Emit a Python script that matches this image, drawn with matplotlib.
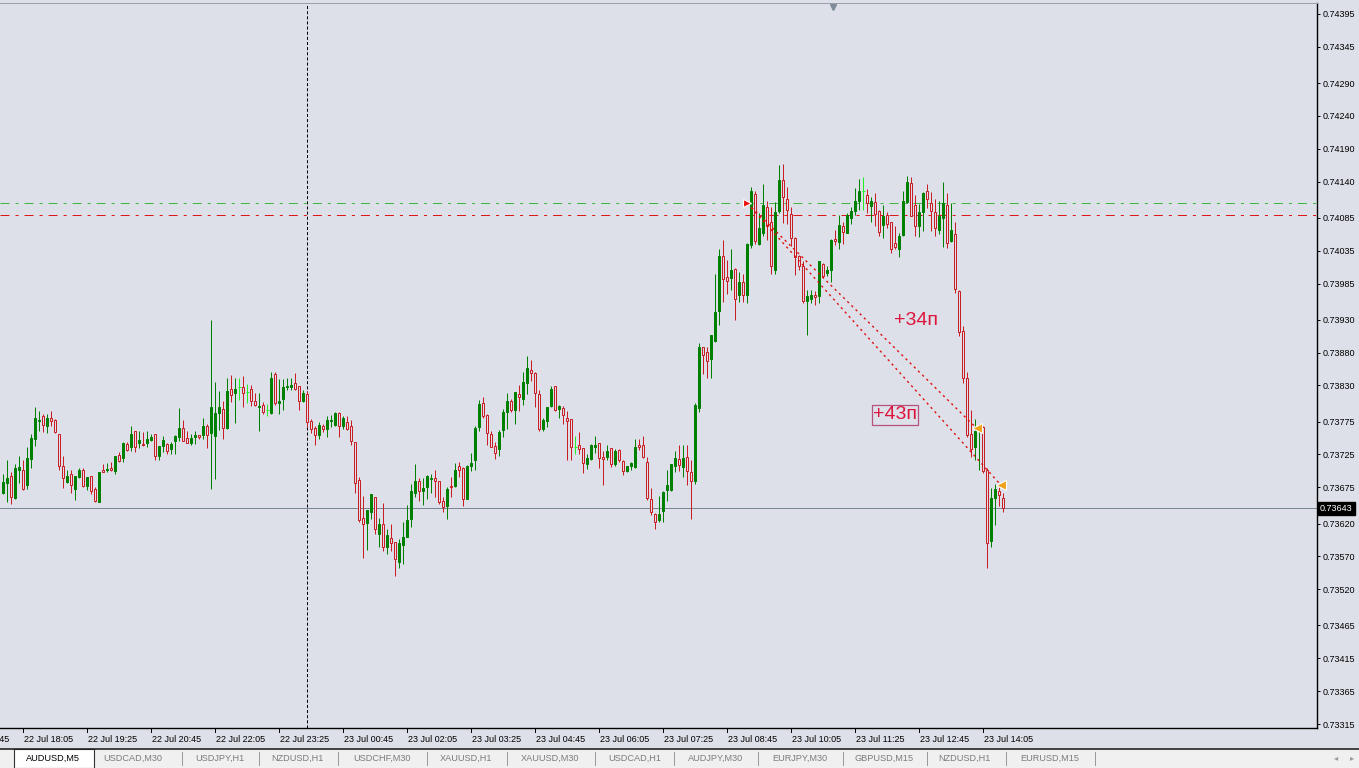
import matplotlib
matplotlib.use('Agg')
import matplotlib.pyplot as plt
import matplotlib.transforms as mtransforms
from matplotlib.patches import Rectangle
import numpy as np

plt.rcParams['font.family'] = ['Liberation Sans', 'DejaVu Sans']
plt.rcParams['lines.scale_dashes'] = False

# AUDUSD,M5 bars from 22 Jul 17:40 to 23 Jul 14:30, quotes in points (x 1e-5)
opens = [73666, 73682, 73692, 73659, 73701, 73701, 73679, 73718, 73749, 73776,
         73784, 73769, 73781, 73777, 73756, 73707, 73683, 73695, 73673, 73691,
         73702, 73677, 73692, 73673, 73653, 73701, 73701, 73705, 73700, 73724,
         73720, 73741, 73736, 73760, 73742, 73741, 73743, 73747, 73756, 73722,
         73738, 73741, 73733, 73746, 73752, 73765, 73750, 73743, 73752, 73754,
         73755, 73768, 73758, 73753, 73788, 73794, 73765, 73825, 73819, 73827,
         73828, 73820, 73824, 73806, 73797, 73800, 73793, 73788, 73847, 73804,
         73809, 73827, 73827, 73833, 73829, 73806, 73817, 73776, 73766, 73754,
         73768, 73764, 73776, 73770, 73788, 73768, 73774, 73768, 73744, 73686,
         73628, 73621, 73637, 73660, 73604, 73620, 73584, 73598, 73592, 73561,
         73588, 73600, 73627, 73667, 73685, 73670, 73676, 73688, 73689, 73684,
         73654, 73646, 73677, 73677, 73707, 73704, 73658, 73707, 73716, 73767,
         73804, 73785, 73756, 73738, 73733, 73762, 73790, 73807, 73793, 73817,
         73809, 73834, 73853, 73849, 73817, 73764, 73776, 73799, 73829, 73794,
         73796, 73780, 73779, 73736, 73739, 73735, 73710, 73718, 73736, 73742,
         73721, 73721, 73735, 73711, 73732, 73715, 73700, 73707, 73706, 73740,
         73740, 73714, 73657, 73635, 73625, 73639, 73671, 73671, 73707, 73718,
         73706, 73721, 73698, 73685, 73795, 73889, 73881, 73870, 73898, 73944,
         74027, 73995, 73994, 74007, 73968, 73987, 73967, 74043, 74121, 74045,
         74062, 74101, 74078, 74006, 74095, 74142, 74113, 74091, 74055, 74027,
         74012, 73958, 73962, 73968, 73966, 74015, 74001, 74005, 74053, 74048,
         74073, 74062, 74084, 74095, 74110, 74125, 74120, 74103, 74109, 74096,
         74074, 74089, 74078, 74046, 74038, 74059, 74109, 74138, 74104, 74072,
         74094, 74125, 74108, 74094, 74066, 74084, 74104, 74049, 74061, 73973,
         73913, 73841, 73756, 73736, 73762, 73767, 73701, 73594, 73659, 73669,
         73659]
highs = [73696, 73717, 73698, 73711, 73723, 73717, 73736, 73756, 73797, 73791,
         73787, 73787, 73791, 73779, 73756, 73722, 73701, 73701, 73692, 73704,
         73705, 73691, 73693, 73675, 73699, 73711, 73712, 73713, 73723, 73729,
         73744, 73744, 73768, 73761, 73761, 73759, 73761, 73756, 73756, 73738,
         73753, 73743, 73744, 73754, 73795, 73778, 73761, 73756, 73761, 73755,
         73781, 73771, 73929, 73835, 73821, 73806, 73842, 73846, 73842, 73841,
         73844, 73832, 73830, 73819, 73818, 73805, 73802, 73851, 73850, 73840,
         73840, 73841, 73842, 73849, 73829, 73823, 73821, 73779, 73769, 73775,
         73772, 73783, 73785, 73790, 73790, 73784, 73784, 73778, 73744, 73691,
         73662, 73640, 73665, 73660, 73629, 73651, 73612, 73619, 73592, 73597,
         73623, 73648, 73680, 73710, 73689, 73689, 73694, 73695, 73701, 73685,
         73661, 73676, 73691, 73712, 73713, 73706, 73709, 73727, 73769, 73808,
         73813, 73786, 73761, 73744, 73762, 73794, 73819, 73810, 73820, 73830,
         73850, 73875, 73868, 73851, 73823, 73780, 73797, 73829, 73829, 73801,
         73799, 73791, 73779, 73753, 73759, 73735, 73725, 73741, 73753, 73742,
         73731, 73739, 73735, 73733, 73733, 73716, 73708, 73714, 73749, 73749,
         73753, 73721, 73674, 73636, 73662, 73670, 73701, 73710, 73731, 73739,
         73739, 73739, 73717, 73804, 73895, 73889, 73889, 73906, 74000, 74037,
         74051, 74021, 74037, 74009, 74003, 74000, 74047, 74132, 74125, 74092,
         74136, 74110, 74101, 74109, 74166, 74167, 74132, 74101, 74056, 74028,
         74019, 73975, 73975, 73974, 74019, 74016, 74012, 74052, 74066, 74090,
         74079, 74092, 74101, 74131, 74144, 74147, 74129, 74116, 74122, 74097,
         74104, 74094, 74079, 74073, 74062, 74125, 74148, 74147, 74119, 74106,
         74124, 74137, 74124, 74114, 74110, 74139, 74122, 74107, 74079, 73975,
         73920, 73850, 73792, 73779, 73772, 73768, 73704, 73674, 73680, 73675,
         73667]
lows = [73665, 73652, 73650, 73658, 73682, 73671, 73672, 73704, 73738, 73761,
        73759, 73758, 73769, 73758, 73701, 73674, 73682, 73667, 73656, 73690,
        73676, 73671, 73665, 73653, 73652, 73698, 73698, 73700, 73695, 73714,
        73714, 73731, 73731, 73729, 73735, 73738, 73737, 73746, 73717, 73717,
        73729, 73725, 73726, 73725, 73746, 73745, 73742, 73739, 73741, 73749,
        73748, 73735, 73673, 73688, 73763, 73749, 73764, 73805, 73773, 73808,
        73797, 73803, 73798, 73798, 73761, 73786, 73784, 73787, 73800, 73787,
        73792, 73823, 73823, 73823, 73793, 73805, 73767, 73758, 73739, 73748,
        73759, 73751, 73767, 73768, 73752, 73764, 73763, 73740, 73667, 73622,
        73568, 73579, 73627, 73604, 73585, 73578, 73573, 73578, 73540, 73552,
        73558, 73599, 73615, 73661, 73655, 73648, 73657, 73666, 73661, 73649,
        73637, 73627, 73660, 73676, 73691, 73646, 73657, 73700, 73702, 73760,
        73780, 73739, 73736, 73718, 73723, 73751, 73764, 73790, 73771, 73791,
        73800, 73817, 73837, 73797, 73760, 73761, 73767, 73797, 73791, 73780,
        73771, 73717, 73716, 73725, 73726, 73697, 73703, 73717, 73728, 73704,
        73679, 73717, 73706, 73708, 73714, 73694, 73698, 73701, 73705, 73732,
        73720, 73656, 73633, 73611, 73623, 73623, 73654, 73670, 73698, 73700,
        73691, 73679, 73627, 73680, 73790, 73848, 73842, 73842, 73896, 73922,
        73957, 73969, 73975, 73930, 73957, 73957, 73955, 74039, 74045, 74044,
        74058, 74051, 74000, 74000, 74093, 74077, 74076, 74042, 73998, 74006,
        73956, 73906, 73955, 73952, 73955, 73994, 73996, 73988, 74044, 74037,
        74045, 74062, 74076, 74090, 74097, 74097, 74092, 74078, 74072, 74057,
        74055, 74069, 74031, 74038, 74025, 74058, 74107, 74087, 74058, 74056,
        74065, 74100, 74065, 74058, 74060, 74040, 74039, 74048, 73971, 73905,
        73834, 73752, 73721, 73717, 73701, 73697, 73553, 73585, 73617, 73647,
        73638]
closes = [73683, 73690, 73661, 73704, 73706, 73672, 73719, 73750, 73781, 73778,
          73770, 73781, 73776, 73759, 73708, 73690, 73692, 73678, 73692, 73702,
          73677, 73691, 73670, 73654, 73698, 73699, 73703, 73702, 73723, 73715,
          73742, 73732, 73756, 73736, 73747, 73739, 73748, 73751, 73723, 73738,
          73747, 73731, 73741, 73753, 73765, 73746, 73743, 73750, 73754, 73752,
          73768, 73754, 73797, 73788, 73797, 73765, 73821, 73815, 73824, 73827,
          73818, 73820, 73806, 73800, 73799, 73789, 73793, 73842, 73803, 73806,
          73827, 73829, 73830, 73825, 73806, 73818, 73774, 73764, 73754, 73770,
          73764, 73778, 73777, 73788, 73768, 73780, 73764, 73746, 73681, 73625,
          73620, 73640, 73665, 73611, 73619, 73585, 73602, 73591, 73566, 73590,
          73599, 73626, 73669, 73684, 73669, 73674, 73693, 73689, 73685, 73652,
          73645, 73672, 73675, 73701, 73702, 73657, 73708, 73712, 73765, 73802,
          73783, 73758, 73737, 73727, 73759, 73789, 73806, 73793, 73820, 73812,
          73836, 73857, 73849, 73818, 73764, 73777, 73797, 73824, 73792, 73798,
          73785, 73776, 73736, 73736, 73734, 73712, 73719, 73739, 73739, 73719,
          73718, 73730, 73711, 73731, 73716, 73700, 73708, 73712, 73736, 73736,
          73721, 73659, 73638, 73623, 73634, 73668, 73678, 73710, 73720, 73709,
          73720, 73700, 73685, 73800, 73889, 73876, 73867, 73906, 73942, 74027,
          73992, 73989, 74006, 73962, 73987, 73967, 74045, 74125, 74050, 74070,
          74104, 74072, 74012, 74094, 74142, 74116, 74097, 74055, 74025, 74011,
          73959, 73966, 73968, 73965, 74019, 73996, 74006, 74051, 74049, 74074,
          74064, 74089, 74095, 74110, 74125, 74125, 74107, 74110, 74091, 74064,
          74088, 74076, 74038, 74040, 74057, 74110, 74139, 74088, 74072, 74094,
          74122, 74113, 74095, 74069, 74088, 74108, 74046, 74066, 73976, 73912,
          73841, 73755, 73734, 73760, 73765, 73700, 73590, 73659, 73672, 73664,
          73643]

time_labels = ['22 Jul 16:45', '22 Jul 18:05', '22 Jul 19:25', '22 Jul 20:45',
               '22 Jul 22:05', '22 Jul 23:25', '23 Jul 00:45', '23 Jul 02:05',
               '23 Jul 03:25', '23 Jul 04:45', '23 Jul 06:05', '23 Jul 07:25',
               '23 Jul 08:45', '23 Jul 10:05', '23 Jul 11:25', '23 Jul 12:45',
               '23 Jul 14:05']
time_label_bars = [-11, 5, 21, 37, 53, 69, 85, 101, 117, 133, 149, 165, 181,
                   197, 213, 229, 245][:len(time_labels)]
price_ticks = [0.74395, 0.74345, 0.74290, 0.74240, 0.74190, 0.74140, 0.74085,
               0.74035, 0.73985, 0.73930, 0.73880, 0.73830, 0.73775, 0.73725,
               0.73675, 0.73620, 0.73570, 0.73520, 0.73465, 0.73415, 0.73365,
               0.73315]
bid = 0.73643
level_green = 0.74107
level_red = 0.74089
day_break_bar = 76
trade_open_bar, trade_open_price = 186, 0.74107
trade_close_bars = [243, 249]
trade_close_prices = [0.73765, 0.73679]
profit_labels = ['+34п', '+43п']
profit_label_pos = [(228.2, 0.739295), (222.9, 0.737851)]
tabs = ['AUDUSD,M5', 'USDCAD,M30', 'USDJPY,H1', 'NZDUSD,H1', 'USDCHF,M30',
        'XAUUSD,H1', 'XAUUSD,M30', 'USDCAD,H1', 'AUDJPY,M30', 'EURJPY,M30',
        'GBPUSD,M15', 'NZDUSD,H1', 'EURUSD,M15']

# colours
BG = '#dde0e8'
UP = '#008000'
DOWN = '#c81e24'
DOJI = '#22ee22'

W, H = 1359, 768
PX = 72 / 100  # one pixel in points

o = np.array(opens) / 1e5
h = np.array(highs) / 1e5
l = np.array(lows) / 1e5
c = np.array(closes) / 1e5
idx = np.arange(len(o))

fig = plt.figure(figsize=(W / 100, H / 100), dpi=100, facecolor=BG)
ax = fig.add_axes([0, 40 / H, 1317 / W, 725 / H], facecolor=BG)
ax.set_xlim(-0.825, 328.4)
ax.set_ylim(0.733090, 0.744117)

bull = c > o
bear = c < o
doji = c == o
wick_colors = np.where(bull, UP, np.where(bear, DOWN, DOJI))

# wicks first, bodies on top so hollow bodies hide them
ax.vlines(idx, l, h, colors=wick_colors, lw=PX, zorder=2)
ax.bar(idx[bull], c[bull] - o[bull], bottom=o[bull], width=0.5,
       color=UP, edgecolor=UP, lw=PX, zorder=3)
ax.bar(idx[bear], o[bear] - c[bear], bottom=c[bear], width=0.5,
       facecolor=BG, edgecolor=DOWN, lw=PX, zorder=3)
ax.hlines(o[doji], idx[doji] - 0.4, idx[doji] + 0.4, colors=DOJI, lw=PX, zorder=3)

# levels, bid line, day separator
ax.axhline(level_green, color='#3cb83c', lw=PX, dashes=(6.5, 4.3, 2.2, 4.3), zorder=1)
ax.axhline(level_red, color='#dd1818', lw=PX, dashes=(6.5, 4.3, 2.2, 4.3), zorder=1)
ax.axhline(bid, color='#7a8694', lw=PX, zorder=1)
ax.axvline(day_break_bar, color='black', lw=PX, dashes=(2.2, 1.5), zorder=1)

# trade history lines
for cb, cp in zip(trade_close_bars, trade_close_prices):
    ax.plot([trade_open_bar, cb + 0.3], [trade_open_price, cp], color='#e01010',
            lw=1.0, dashes=(1.6, 2.6), zorder=4)
    ax.plot(cb + 0.4, cp, marker='<', ms=7, mfc='#eea31a', mec='white', mew=0.8, zorder=5)
ax.plot(trade_open_bar - 0.2, trade_open_price, marker='>', ms=6, mfc='#ee1111',
        mec='white', mew=0.8, zorder=5)

ax.text(*profit_label_pos[0], profit_labels[0], color='#dc143c', fontsize=14,
        ha='center', va='center', zorder=6)
ax.text(*profit_label_pos[1], profit_labels[1], color='#dc143c', fontsize=14,
        ha='center', va='center', zorder=6,
        bbox=dict(boxstyle='square,pad=0.06', fc='none', ec='#b5527e', lw=0.9))

# shift marker at the top
ax.plot(833 / 1317, 0.994, marker='v', ms=5, color='#7f8c99', transform=ax.transAxes,
        clip_on=False, zorder=6)

# price axis on the right
ax.yaxis.tick_right()
ax.set_yticks(price_ticks, labels=[f'{p:.5f}' for p in price_ticks])
ax.tick_params(axis='y', direction='out', length=2.2, width=PX, pad=1.8,
               labelsize=6.5, colors='black')
ax.annotate(f'{bid:.5f}', xy=(1, bid), xycoords=('axes fraction', 'data'),
            xytext=(2.2, 0), textcoords='offset points', ha='left', va='center',
            fontsize=6.5, color='white', annotation_clip=False,
            bbox=dict(boxstyle='square,pad=0.25', fc='black', ec='black'))

# time axis
ax.set_xticks([])
blend = mtransforms.blended_transform_factory(ax.transData, ax.transAxes)
for b, lab in zip(time_label_bars, time_labels):
    ax.plot([b - 0.15, b - 0.15], [0, -4 / 725], color='black', lw=PX,
            transform=blend, clip_on=False)
    ax.annotate(lab, xy=(b, 0), xycoords=('data', 'axes fraction'),
                xytext=(0.8, -8.6), textcoords='offset points', ha='left',
                va='center', fontsize=6.5, color='black', annotation_clip=False)

for side in ['left']:
    ax.spines[side].set_visible(False)
ax.spines['top'].set_color('#9aa0a8')
ax.spines['top'].set_linewidth(PX)
ax.spines['right'].set_color('black')
ax.spines['right'].set_linewidth(1.0)
ax.spines['bottom'].set_color('black')
ax.spines['bottom'].set_linewidth(1.0)

# symbol tabs strip
tab_ax = fig.add_axes([0, 0, 1, 20 / H], facecolor='#f0f0f0')
tab_ax.set_xlim(0, W)
tab_ax.set_ylim(20, 0)
tab_ax.set_axis_off()
tab_ax.add_patch(Rectangle((0, 0), W, 20, fc='#f0f0f0', ec='none'))
tab_ax.axhline(0.5, color='#222222', lw=1.2)
tab_ax.add_patch(Rectangle((14, 1), 80, 18.5, fc='white', ec='#333333', lw=0.8))
tab_centers = [53, 133, 220, 297, 382, 466, 550, 635, 716, 800, 884, 964, 1050]
separators = [182, 259, 338, 427, 507, 595, 674, 758, 843, 927, 1006, 1095]
for i, (name, xc) in enumerate(zip(tabs, tab_centers)):
    tab_ax.text(xc, 10.5, name, ha='center', va='center', fontsize=6.6,
                color='black' if i == 0 else '#7b7b7b')
for xs in separators:
    tab_ax.plot([xs, xs], [4, 17], color='#9a9a9a', lw=PX)
tab_ax.text(1336, 10.5, '\u25c2', ha='center', va='center', fontsize=6, color='#9a9a9a')
tab_ax.text(1352, 10.5, '\u25b8', ha='center', va='center', fontsize=6, color='#9a9a9a')

fig.savefig('out.png', dpi=100, facecolor=BG)
